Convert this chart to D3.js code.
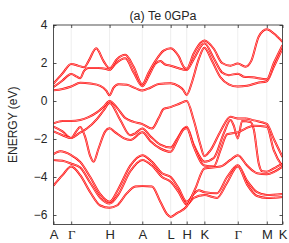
<!DOCTYPE html>
<html><head><meta charset="utf-8">
<script src="https://cdn.jsdelivr.net/npm/d3@7"></script>
<style>body{margin:0;background:#fff}</style>
</head><body>
<svg id="c" width="289" height="243"></svg>
<script>
// high-symmetry path
const kLabels = ["A","Γ","H","A","L","H","K","Γ","M","K"];
const kTicks  = [0, 0.53, 1.68, 2.66, 3.51, 3.99, 4.52, 5.52, 6.39, 6.86];
const yTicks  = [-6, -4, -2, 0, 2, 4];

// conduction bands [k, E(eV)]
const bandC1 = [[0,0.56],[0.27,0.63],[0.53,0.76],[0.8,0.96],[1.1,0.92],[1.4,0.8],[1.58,0.55],[1.68,0.3],[1.8,0.7],[1.95,0.88],[2.2,0.85],[2.45,0.68],[2.66,0.55],[2.9,0.7],[3.15,0.9],[3.51,0.93],[3.75,0.78],[3.88,0.6],[3.99,0.32],[4.15,1.0],[4.35,2.2],[4.52,2.8],[4.75,2.1],[5.0,1.25],[5.25,0.88],[5.52,0.76],[5.8,0.8],[6.1,0.95],[6.39,1.04],[6.6,1.8],[6.86,2.76]];
const bandC2 = [[0,0.74],[0.27,1.08],[0.53,1.42],[0.7,1.28],[0.8,1.2],[0.92,1.6],[1.05,1.74],[1.35,1.74],[1.55,1.7],[1.68,1.64],[1.85,1.95],[2.15,2.25],[2.4,1.5],[2.66,0.78],[2.85,1.3],[3.05,1.95],[3.2,2.1],[3.35,1.92],[3.51,1.86],[3.75,1.72],[3.99,1.63],[4.2,2.2],[4.52,3.04],[4.8,2.25],[5.05,1.5],[5.25,1.36],[5.52,1.44],[5.7,1.28],[5.95,1.25],[6.39,1.14],[6.6,2.0],[6.86,2.94]];
const bandC3 = [[0,0.91],[0.27,1.45],[0.53,1.95],[0.75,1.85],[0.92,1.78],[1.05,2.1],[1.28,2.78],[1.5,2.1],[1.68,1.72],[1.9,2.2],[2.15,2.43],[2.4,1.8],[2.66,0.88],[2.85,1.5],[3.05,2.1],[3.3,2.65],[3.51,2.78],[3.75,2.35],[3.9,1.8],[3.99,1.7],[4.2,2.5],[4.4,3.05],[4.52,3.18],[4.8,2.75],[5.05,2.0],[5.3,1.86],[5.52,1.97],[5.75,1.8],[5.92,2.1],[6.15,3.4],[6.39,3.78],[6.6,3.55],[6.86,3.11]];

// middle valence bands
const bandV1 = [[0,-1.18],[0.27,-1.05],[0.53,-1.05],[0.8,-1.0],[1.05,-0.85],[1.3,-0.6],[1.5,-0.3],[1.68,0.0],[1.9,-0.35],[2.15,-0.9],[2.4,-1.1],[2.66,-1.22],[2.95,-1.45],[3.15,-0.9],[3.3,-0.42],[3.51,-0.32],[3.8,-0.12],[3.99,0.0],[4.2,-1.0],[4.4,-2.3],[4.52,-2.9],[4.7,-2.6],[5.0,-1.6],[5.3,-0.83],[5.52,-0.92],[5.75,-0.92],[6.0,-1.02],[6.39,-1.2],[6.6,-2.0],[6.86,-2.95]];
const bandV2 = [[0,-1.35],[0.27,-1.6],[0.53,-1.95],[0.75,-1.72],[1.0,-1.45],[1.3,-0.95],[1.5,-0.5],[1.68,-0.1],[2.0,-1.0],[2.3,-1.8],[2.45,-1.7],[2.66,-1.45],[2.9,-1.85],[3.2,-2.3],[3.51,-2.45],[3.7,-2.0],[3.9,-1.45],[3.99,-1.35],[4.2,-2.3],[4.45,-3.1],[4.52,-3.2],[4.8,-3.0],[5.1,-1.7],[5.3,-1.0],[5.4,-1.3],[5.52,-1.97],[5.65,-1.05],[5.9,-1.1],[6.0,-1.5],[6.15,-3.3],[6.25,-3.7],[6.39,-3.72],[6.6,-3.55],[6.86,-3.3]];
const bandV3 = [[0,-1.6],[0.27,-1.8],[0.53,-1.95],[0.68,-1.6],[0.8,-1.37],[0.95,-1.9],[1.1,-2.9],[1.2,-3.2],[1.35,-2.5],[1.55,-1.6],[1.68,-1.44],[1.85,-1.65],[2.1,-1.95],[2.3,-2.05],[2.66,-1.65],[2.9,-2.1],[3.2,-2.5],[3.51,-2.67],[3.7,-2.1],[3.9,-1.5],[3.99,-1.44],[4.2,-2.4],[4.45,-3.3],[4.52,-3.4],[4.8,-3.45],[5.0,-2.6],[5.2,-1.75],[5.52,-1.65],[5.75,-1.45],[6.0,-1.3],[6.39,-1.35],[6.6,-2.6],[6.86,-3.45]];

// lower valence bands
const bandL1 = [[0,-2.8],[0.2,-2.65],[0.53,-2.85],[0.8,-3.2],[1.1,-4.0],[1.4,-4.9],[1.68,-5.3],[1.95,-4.6],[2.3,-3.4],[2.66,-2.85],[2.95,-3.2],[3.25,-3.8],[3.51,-4.0],[3.75,-4.6],[3.99,-5.3],[4.2,-4.9],[4.35,-4.7],[4.52,-4.8],[4.9,-4.85],[5.2,-4.0],[5.52,-3.38],[5.8,-4.2],[6.1,-4.8],[6.39,-4.95],[6.86,-4.9]];
const bandL2 = [[0,-3.1],[0.27,-3.15],[0.53,-3.3],[0.8,-3.5],[1.1,-4.3],[1.4,-5.1],[1.68,-5.4],[1.95,-4.9],[2.3,-3.7],[2.66,-3.1],[2.95,-3.4],[3.25,-4.0],[3.51,-4.25],[3.75,-4.8],[3.99,-5.45],[4.2,-5.1],[4.52,-4.95],[4.9,-5.1],[5.2,-4.3],[5.52,-3.45],[5.8,-4.4],[6.1,-5.0],[6.39,-5.1],[6.86,-5.05]];
const bandL3 = [[0,-4.45],[0.27,-3.9],[0.53,-3.45],[0.8,-3.9],[1.1,-4.8],[1.4,-5.5],[1.68,-5.62],[1.9,-5.5],[2.2,-4.85],[2.45,-4.5],[2.66,-4.47],[2.95,-4.5],[3.2,-5.3],[3.4,-5.95],[3.51,-6.1],[3.7,-5.9],[3.99,-5.55],[4.25,-4.6],[4.52,-3.55],[5.0,-3.45],[5.3,-3.1],[5.52,-2.85],[5.8,-3.4],[6.1,-3.8],[6.39,-3.85],[6.86,-3.45]];

const bands = [bandC1, bandC2, bandC3, bandV1, bandV2, bandV3, bandL1, bandL2, bandL3];

const svg = d3.select("#c");
const m = {l:53.5, r:282.5, t:25, b:224.5};
const x = d3.scaleLinear().domain([kTicks[0], kTicks[kTicks.length-1]]).range([m.l, m.r]);
const y = d3.scaleLinear().domain([-6.5, 4]).range([m.b, m.t]);
const ink = "#262626";

svg.append("clipPath").attr("id","clip").append("rect")
  .attr("x", m.l).attr("y", m.t).attr("width", m.r-m.l).attr("height", m.b-m.t);

// vertical grid at symmetry points
svg.append("g").selectAll("line").data(kTicks.slice(1,-1)).join("line")
  .attr("x1", d=>x(d)).attr("x2", d=>x(d)).attr("y1", m.t).attr("y2", m.b)
  .attr("stroke", "#e6e6e6").attr("stroke-width", 0.7);

// bands (drawn as spin-split double lines)
const line = d3.line().x(d=>x(d[0])).y(d=>y(d[1])).curve(d3.curveMonotoneX);
const gB = svg.append("g").attr("clip-path","url(#clip)");
bands.forEach(b => {
  gB.append("path").attr("d", line(b)).attr("fill","none").attr("stroke","#ff0000").attr("stroke-width",2.0);
  gB.append("path").attr("d", line(b)).attr("fill","none").attr("stroke","#ffe8e8").attr("stroke-width",0.6);
});

// frame
svg.append("rect").attr("x", m.l).attr("y", m.t).attr("width", m.r-m.l).attr("height", m.b-m.t)
  .attr("fill","none").attr("stroke", ink).attr("stroke-width", 0.8);

// y axis
const yAx = d3.axisLeft(y).tickValues(yTicks).tickSizeInner(-3).tickSizeOuter(0).tickPadding(6);
const gy = svg.append("g").attr("transform",`translate(${m.l},0)`).call(yAx);
gy.select(".domain").remove();
gy.selectAll("line").attr("stroke", ink).attr("stroke-width",0.8);
gy.selectAll("text").attr("font-family","Liberation Sans, Arial, sans-serif").attr("font-size",12).attr("fill",ink);
const yAxR = d3.axisRight(y).tickValues(yTicks).tickSizeInner(-3).tickSizeOuter(0).tickFormat("");
const gyr = svg.append("g").attr("transform",`translate(${m.r},0)`).call(yAxR);
gyr.select(".domain").remove();
gyr.selectAll("line").attr("stroke", ink).attr("stroke-width",0.8);

// x axis
const xAx = d3.axisBottom(x).tickValues(kTicks).tickSizeInner(-3).tickSizeOuter(0).tickPadding(5)
  .tickFormat((d,i)=>kLabels[i]);
const gx = svg.append("g").attr("transform",`translate(0,${m.b})`).call(xAx);
gx.select(".domain").remove();
gx.selectAll("line").attr("stroke", ink).attr("stroke-width",0.8);
gx.selectAll("text").attr("font-size",13).attr("fill",ink)
  .attr("font-family",(d,i)=> kLabels[i]==="Γ" ? "Liberation Serif, serif" : "Liberation Sans, Arial, sans-serif");
const xAxT = d3.axisTop(x).tickValues(kTicks).tickSizeInner(-3).tickSizeOuter(0).tickFormat("");
const gxt = svg.append("g").attr("transform",`translate(0,${m.t})`).call(xAxT);
gxt.select(".domain").remove();
gxt.selectAll("line").attr("stroke", ink).attr("stroke-width",0.8);

// title & label
svg.append("text").attr("x",163).attr("y",20).attr("text-anchor","middle")
  .attr("font-family","Liberation Sans, Arial, sans-serif").attr("font-size",12.5).attr("fill",ink)
  .text("(a) Te 0GPa");
svg.append("text").attr("transform",`translate(17,${(m.t+m.b)/2}) rotate(-90)`).attr("text-anchor","middle")
  .attr("font-family","Liberation Sans, Arial, sans-serif").attr("font-size",12).attr("fill",ink)
  .text("ENERGY (eV)");
</script>
</body></html>
